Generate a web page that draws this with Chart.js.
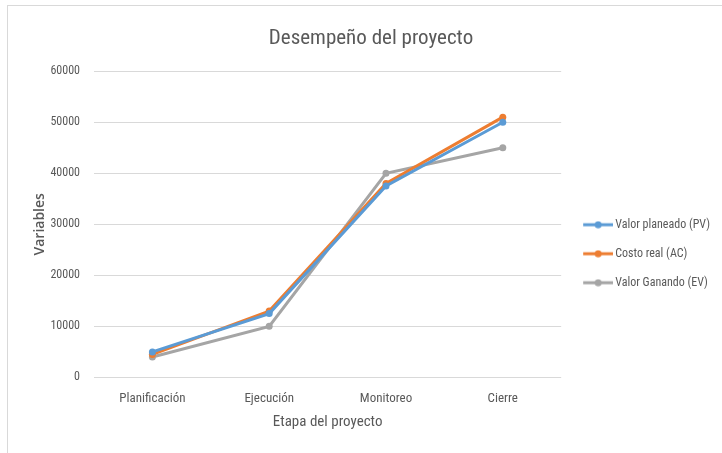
<!DOCTYPE html>
<html>
<head>
<meta charset="utf-8">
<script src="https://cdn.jsdelivr.net/npm/chart.js@4"></script>
<style>
  body { margin: 0; background: #fff; overflow: hidden; }
  #marco { position: absolute; left: 7px; top: 5px; width: 730px; height: 470px; border: 1px solid #d9d9d9; }
  #grafica { position: absolute; left: 0; top: 0; }
</style>
</head>
<body>
<div id="marco"><canvas id="grafica" width="715" height="448"></canvas></div>
<script>
// Etapes i series del gràfic
const etapes = ['Planificación', 'Ejecución', 'Monitoreo', 'Cierre'];
const valorPlaneado = [5000, 12500, 37500, 50000];
const costoReal = [4500, 13000, 38000, 51000];
const valorGanado = [4000, 10000, 40000, 45000];
const ticksY = [0, 10000, 20000, 30000, 40000, 50000, 60000];

const FONT = "'Liberation Sans Narrow', 'Roboto Condensed', Roboto, sans-serif";
const GRIS = '#595959';

// Icona de llegenda: línia amb punt al mig
function iconaLinia(color) {
    const c = document.createElement('canvas');
    c.width = 39; c.height = 8;
    const x = c.getContext('2d');
    x.strokeStyle = color; x.lineWidth = 3;
    x.beginPath(); x.moveTo(9, 4); x.lineTo(39, 4); x.stroke();
    x.fillStyle = color;
    x.beginPath(); x.arc(24, 4, 3.5, 0, Math.PI * 2); x.fill();
    return c;
}

function serie(nom, dades, color) {
    return {
        label: nom,
        data: dades,
        borderColor: color,
        backgroundColor: color,
        borderWidth: 3,
        pointRadius: 3.5,
        pointHoverRadius: 3.5,
        pointBorderWidth: 0,
        tension: 0
    };
}

new Chart(document.getElementById('grafica').getContext('2d'), {
    type: 'line',
    data: {
        labels: etapes,
        datasets: [
            serie('Valor planeado (PV)', valorPlaneado, '#5B9BD5'),
            serie('Costo real (AC)', costoReal, '#ED7D31'),
            serie('Valor Ganando (EV)', valorGanado, '#A5A5A5')
        ]
    },
    options: {
        responsive: false,
        animation: false,
        layout: { padding: { left: 14, right: 3, top: 8, bottom: 19 } },
        plugins: {
            title: {
                display: true,
                text: 'Desempeño del proyecto',
                color: GRIS,
                font: { family: FONT, size: 21, weight: 'normal' },
                padding: { top: 12, bottom: 20 }
            },
            legend: {
                position: 'right',
                title: {
                    display: true,
                    text: ' ',
                    font: { size: 12 },
                    padding: { top: 22, bottom: 22 }
                },
                labels: {
                    color: GRIS,
                    font: { family: FONT, size: 12 },
                    usePointStyle: true,
                    pointStyleWidth: 31,
                    boxHeight: 8,
                    padding: 17,
                    generateLabels: (chart) => chart.data.datasets.map((ds, i) => ({
                        text: ds.label,
                        fontColor: GRIS,
                        pointStyle: iconaLinia(ds.borderColor),
                        datasetIndex: i,
                        lineWidth: 0,
                        strokeStyle: 'transparent',
                        fillStyle: 'transparent'
                    }))
                }
            },
            tooltip: { enabled: false }
        },
        scales: {
            x: {
                offset: true,
                grid: { display: false },
                border: { display: false },
                ticks: { color: GRIS, font: { family: FONT, size: 13 }, padding: 6 },
                title: {
                    display: true,
                    text: 'Etapa del proyecto',
                    color: GRIS,
                    font: { family: FONT, size: 15 },
                    padding: { top: 0 }
                }
            },
            y: {
                min: 0,
                max: 60000,
                afterBuildTicks: (s) => { s.ticks = ticksY.map(v => ({ value: v })); },
                afterFit: (s) => { s.width = 72; },
                grid: { color: '#d9d9d9', drawTicks: false },
                border: { display: false },
                ticks: {
                    color: GRIS,
                    font: { family: FONT, size: 12 },
                    padding: 14,
                    callback: (v) => String(v)
                },
                title: {
                    display: true,
                    text: 'Variables',
                    color: GRIS,
                    font: { family: "'Open Sans', 'Liberation Sans', sans-serif", size: 14, weight: '600' },
                    padding: { top: 10, bottom: 3 }
                }
            }
        }
    }
});
</script>
</body>
</html>
